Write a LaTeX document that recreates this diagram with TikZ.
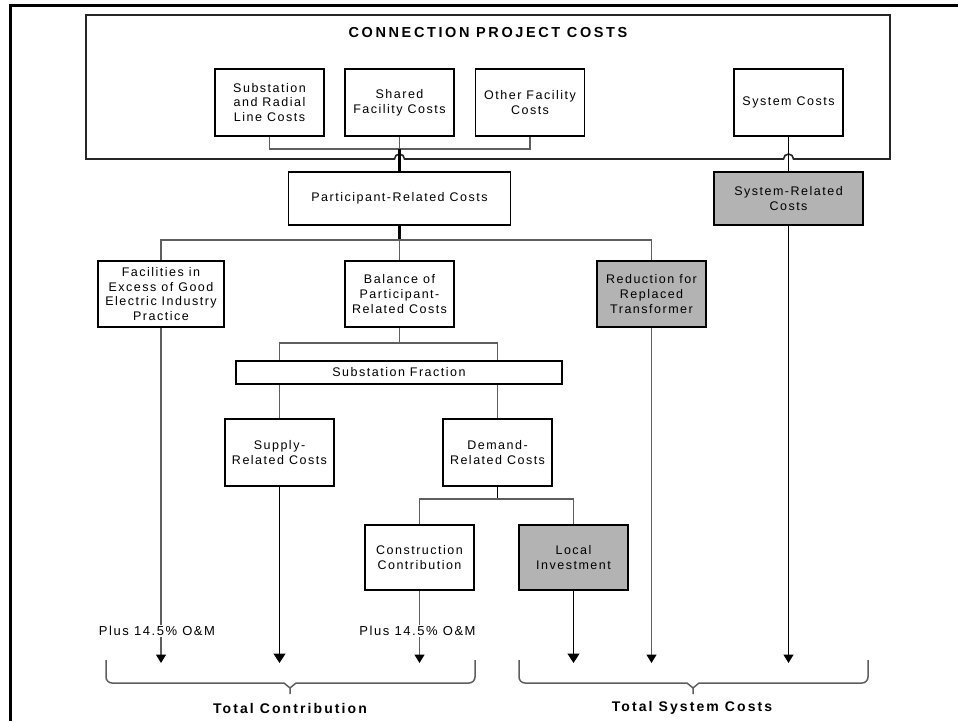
\documentclass[tikz,border=0pt]{standalone}
\usepackage{fontspec}
\setmainfont{Liberation Sans}[LetterSpace=12]
\usetikzlibrary{positioning, calc, arrows.meta}
\definecolor{shade}{HTML}{B3B3B3}
\definecolor{wire}{HTML}{5E5E5E}

\begin{document}
\begin{tikzpicture}[
    x=1pt, y=-1pt,
    font=\fontsize{12.5}{14.7}\selectfont,
    block/.style={
        draw,
        line width=1.5pt,
        fill=white,
        align=center,
        inner sep=1pt,
        minimum width=109pt,
        minimum height=67pt
    },
    shaded/.style={block, fill=shade},
    wire/.style={draw=wire, line width=1.5pt},
    dark/.style={draw=black, line width=1.5pt},
    heavy/.style={draw=black, line width=2.2pt},
    down/.style={-{Triangle[width=10pt,length=8.5pt,color=black]}},
    bigdown/.style={-{Triangle[width=12pt,length=9.5pt,color=black]}},
    note/.style={fill=white, inner sep=1pt, font=\fontsize{13}{15}\selectfont},
    total/.style={font=\fontsize{14}{16}\selectfont\bfseries\addfontfeature{LetterSpace=15}}
]
\useasboundingbox (0,0) rectangle (958,721);

% Page frame
\draw[line width=2.8pt] (10.5,721) |- (958,5.5);

% Connection project costs
\draw[line width=1.6pt, draw=black!85] (86,159) -- (86,15) -- (890,15) -- (890,159)
    -- (793.5,159) arc[start angle=0, end angle=-180, radius=5]
    -- (404.5,159) arc[start angle=0, end angle=-180, radius=5] -- cycle;
\node[font=\fontsize{14.5}{16}\selectfont\bfseries\addfontfeature{LetterSpace=18}] (title) at (488,33) {CONNECTION PROJECT COSTS};
\node[block] (subst) at (269.5,102.5) {Substation\\and Radial\\Line Costs};
\node[block] (shared) at (399.5,102.5) {Shared\\Facility Costs};
\node[block] (other) at (530,102.5) {Other Facility\\Costs};
\node[block] (syscost) at (788.5,102.5) {System Costs};

% Participant / system split
\node[block, minimum width=222pt, minimum height=53pt] (partrel) at (399.5,198.5) {Participant-Related Costs};
\node[shaded, minimum width=149pt, minimum height=53pt] (sysrel) at (788.5,198.5) {System-Related\\Costs};

% Second row
\node[block, minimum width=126pt, minimum height=66pt] (facil) at (161,294) {Facilities in\\Excess of Good\\Electric Industry\\Practice};
\node[block, minimum height=66pt] (balance) at (399.5,294) {Balance of\\Participant-\\Related Costs};
\node[shaded, minimum height=66pt] (reduct) at (651.5,294) {Reduction for\\Replaced\\Transformer};

% Substation fraction
\node[block, minimum width=326pt, minimum height=23pt] (subfrac) at (399,372.5) {Substation Fraction};
\node[block] (supply) at (279.5,452.5) {Supply-\\Related Costs};
\node[block] (demand) at (497.5,452.5) {Demand-\\Related Costs};

% Demand split
\node[block, minimum height=65pt] (constr) at (419.5,557.5) {Construction\\Contribution};
\node[shaded, minimum height=65pt] (local) at (573.5,557.5) {Local\\Investment};

% Joins
\coordinate (topjoin) at ($(shared.south)+(0,12)$);
\coordinate (midjoin) at ($(partrel.south)+(0,14)$);
\coordinate (baljoin) at ($(balance.south)+(0,15)$);
\coordinate (demjoin) at ($(demand.south)+(0,12)$);
\coordinate (base) at (0,663);

% Edges
\draw[wire] (subst.south) |- (topjoin) -| (other.south);
\draw[wire] (shared.south) -- (topjoin);
\draw[heavy] (partrel.north) -- (topjoin);
\draw[dark] (syscost.south) -- (sysrel.north);

\draw[heavy] (partrel.south) -- (midjoin);
\draw[wire] (facil.north) |- (midjoin) -| (reduct.north);
\draw[wire] (midjoin) -- (balance.north);

\draw[wire] (balance.south) -- (baljoin);
\draw[wire] (subfrac.north -| supply.north) |- (baljoin) -| (subfrac.north -| demand.north);
\draw[wire] (subfrac.south -| supply.north) -- (supply.north);
\draw[wire] (subfrac.south -| demand.north) -- (demand.north);

\draw[dark] (demand.south) -- (demjoin);
\draw[wire] (constr.north) |- (demjoin) -| (local.north);

% Arrows to totals
\draw[wire, down] (facil.south) -- (facil.south |- base);
\draw[dark, bigdown] (supply.south) -- (supply.south |- base);
\draw[wire, down] (constr.south) -- (constr.south |- base);
\draw[dark, bigdown] (local.south) -- (local.south |- base);
\draw[wire, down] (reduct.south) -- (reduct.south |- base);
\draw[dark, down] (sysrel.south) -- (sysrel.south |- base);

\node[note] (omF) at ($(facil.south |- 0,631)+(-4,0)$) {Plus 14.5\% O\&M};
\node[note] (omC) at ($(constr.south |- 0,631)+(-2,0)$) {Plus 14.5\% O\&M};

% Braces
\draw[wire, rounded corners=6pt] (106,660) -- (106,683) -- (284,683);
\draw[wire, rounded corners=6pt] (475,660) -- (475,683) -- (296,683);
\draw[wire] (284,683) -- (290,688) -- (296,683) (290,688) -- (290,694);
\draw[wire, rounded corners=6pt] (519,660) -- (519,683) -- (687,683);
\draw[wire, rounded corners=6pt] (868,660) -- (868,683) -- (699,683);
\draw[wire] (687,683) -- (693,688) -- (699,683) (693,688) -- (693,694);

\node[total] (contrib) at (290,708) {Total Contribution};
\node[total] (system) at (692,708) {Total System Costs};

\end{tikzpicture}
\end{document}
